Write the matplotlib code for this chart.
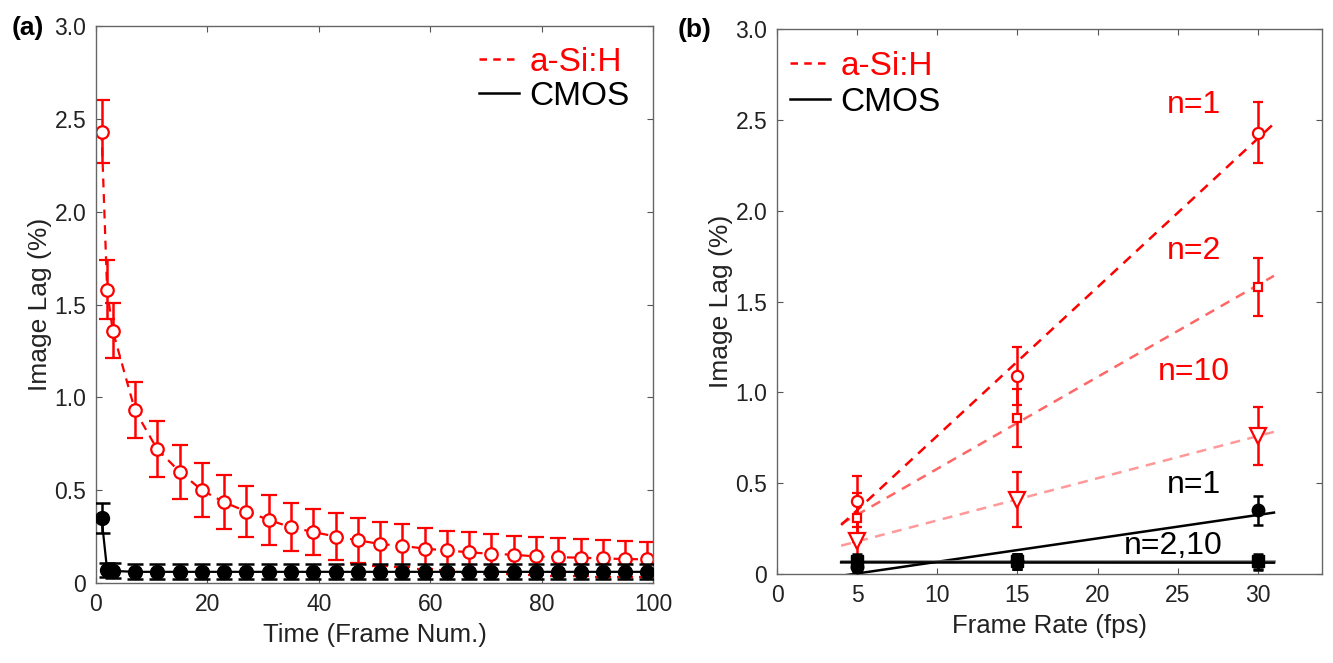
import matplotlib.pyplot as plt
import numpy as np
from matplotlib.lines import Line2D
from matplotlib.ticker import FuncFormatter

plt.rcParams['font.family'] = ['Liberation Sans', 'DejaVu Sans']

# (a) image lag vs frame number
frames = [1, 2, 3, 7, 11, 15, 19, 23, 27, 31, 35, 39, 43, 47, 51, 55,
          59, 63, 67, 71, 75, 79, 83, 87, 91, 95, 99]
asi_lag = [2.43, 1.58, 1.36, 0.93, 0.72, 0.60, 0.50, 0.435, 0.385, 0.34,
           0.30, 0.275, 0.25, 0.23, 0.21, 0.20, 0.185, 0.175, 0.165, 0.157,
           0.152, 0.143, 0.139, 0.136, 0.132, 0.129, 0.127]
asi_err = [0.17, 0.16, 0.15, 0.15, 0.15, 0.145, 0.145, 0.145, 0.135, 0.135,
           0.13, 0.125, 0.125, 0.12, 0.12, 0.115, 0.11, 0.107, 0.11, 0.107,
           0.103, 0.102, 0.102, 0.10, 0.098, 0.095, 0.095]
cmos_lag = [0.35, 0.07, 0.065, 0.06, 0.06, 0.06, 0.06, 0.06, 0.06, 0.06,
            0.06, 0.06, 0.06, 0.06, 0.06, 0.06, 0.06, 0.06, 0.06, 0.06,
            0.06, 0.06, 0.06, 0.06, 0.06, 0.06, 0.06]
cmos_err = [0.08, 0.04, 0.04, 0.04, 0.04, 0.04, 0.04, 0.04, 0.04, 0.04,
            0.04, 0.04, 0.04, 0.04, 0.04, 0.04, 0.04, 0.04, 0.04, 0.04,
            0.04, 0.04, 0.04, 0.04, 0.04, 0.04, 0.04]

# (b) image lag vs frame rate
fps = [5, 15, 30]
asi_n1 = [0.40, 1.09, 2.43]
asi_n1_err = [0.14, 0.16, 0.17]
asi_n2 = [0.31, 0.86, 1.58]
asi_n2_err = [0.135, 0.16, 0.16]
asi_n10 = [0.18, 0.41, 0.76]
asi_n10_err = [0.13, 0.15, 0.16]
cmos_n1 = [0.04, 0.07, 0.35]
cmos_n1_err = [0.03, 0.04, 0.08]
cmos_n2 = [0.07, 0.07, 0.07]
cmos_n10 = [0.06, 0.07, 0.06]
cmos_n_err = [0.04, 0.04, 0.04]

fig = plt.figure(figsize=(13.33, 6.63), dpi=100)
ax1 = fig.add_axes([0.072, 0.1207, 0.4179, 0.840])
ax2 = fig.add_axes([0.5829, 0.1342, 0.4089, 0.822])

fmt = FuncFormatter(lambda v, p: '0' if v == 0 else '%.1f' % v)
for ax in (ax1, ax2):
    ax.set_ylim(0, 3)
    ax.set_yticks([0, 0.5, 1.0, 1.5, 2.0, 2.5, 3.0])
    ax.yaxis.set_major_formatter(fmt)
    ax.tick_params(direction='in', top=True, right=True, length=4,
                   labelsize=16.5, colors='#555555', labelcolor='#222222', pad=7)
    for s in ax.spines.values():
        s.set_color('#666666')
        s.set_linewidth(1)
    ax.set_ylabel('Image Lag (%)', fontsize=19, color='#222222', labelpad=2)

# panel (a)
ax1.errorbar(frames, asi_lag, yerr=asi_err, color='red', ls=(0, (4, 3)), lw=1.6,
             marker='o', ms=9, mfc='white', mec='red', mew=1.6,
             capsize=6, elinewidth=1.8, capthick=1.8, zorder=2)
ax1.errorbar(frames, cmos_lag, yerr=cmos_err, color='black', ls='-', lw=1.6,
             marker='o', ms=10, mfc='black', mec='black',
             capsize=6, elinewidth=1.8, capthick=1.8, zorder=3)
ax1.set_xlim(0, 100)
ax1.set_xticks([0, 20, 40, 60, 80, 100])
ax1.set_xlabel('Time (Frame Num.)', fontsize=18.5, color='#222222', labelpad=5)

# panel (b)
xfit = np.array([4, 31])
red_sets = [(asi_n1, asi_n1_err, 'o', 8, 1.0),
            (asi_n2, asi_n2_err, 's', 6, 0.6),
            (asi_n10, asi_n10_err, 'v', 11, 0.4)]
for vals, err, mk, size, a in red_sets:
    k, b = np.polyfit(fps, vals, 1)
    ax2.plot(xfit, k * xfit + b, color='red', alpha=a, ls=(0, (4, 3)), lw=1.8)
    ax2.errorbar(fps, vals, yerr=err, ls='none', marker=mk, ms=size,
                 mfc='white', mec='red', mew=1.6, ecolor='red',
                 capsize=3.5, elinewidth=1.8, capthick=1.8, zorder=3)

black_sets = [(cmos_n1, cmos_n1_err, 'o', 'black'),
              (cmos_n2, cmos_n_err, 's', '#777777'),
              (cmos_n10, cmos_n_err, 'v', 'black')]
for vals, err, mk, lc in black_sets:
    k, b = np.polyfit(fps, vals, 1)
    ax2.plot(xfit, k * xfit + b, color=lc, lw=1.8)
    ax2.errorbar(fps, vals, yerr=err, ls='none', marker=mk, ms=9,
                 mfc='black', mec='black', ecolor='black',
                 capsize=3.5, elinewidth=1.8, capthick=1.8, zorder=4)

ax2.set_xlim(0, 34)
ax2.set_xticks([0, 5, 10, 15, 20, 25, 30])
ax2.set_xlabel('Frame Rate (fps)', fontsize=18.5, color='#222222', labelpad=5)

ax2.text(26, 2.58, 'n=1', color='red', fontsize=23, ha='center', va='center')
ax2.text(26, 1.78, 'n=2', color='red', fontsize=23, ha='center', va='center')
ax2.text(26, 1.11, 'n=10', color='red', fontsize=23, ha='center', va='center')
ax2.text(26, 0.49, 'n=1', color='black', fontsize=23, ha='center', va='center')
ax2.text(24.7, 0.155, 'n=2,10', color='black', fontsize=23, ha='center', va='center')

handles = [Line2D([], [], color='red', ls=(0, (3, 2.5)), lw=1.8),
           Line2D([], [], color='black', lw=1.8)]
names = ['a-Si:H', 'CMOS']
ax1.legend(handles, names, loc='upper right', bbox_to_anchor=(1.0, 1.005),
           frameon=False, fontsize=24, handlelength=1.2, handletextpad=0.3,
           labelspacing=0.1, borderaxespad=0.3, labelcolor=['red', 'black'])
ax2.legend(handles, names, loc='upper left', bbox_to_anchor=(0.0, 0.985),
           frameon=False, fontsize=24, handlelength=1.2, handletextpad=0.3,
           labelspacing=0.15, borderaxespad=0.0, labelcolor=['red', 'black'])

fig.text(0.009, 0.958, '(a)', fontsize=19, fontweight='bold', va='center')
fig.text(0.508, 0.955, '(b)', fontsize=19, fontweight='bold', va='center')

fig.savefig('out.png', dpi=100)
